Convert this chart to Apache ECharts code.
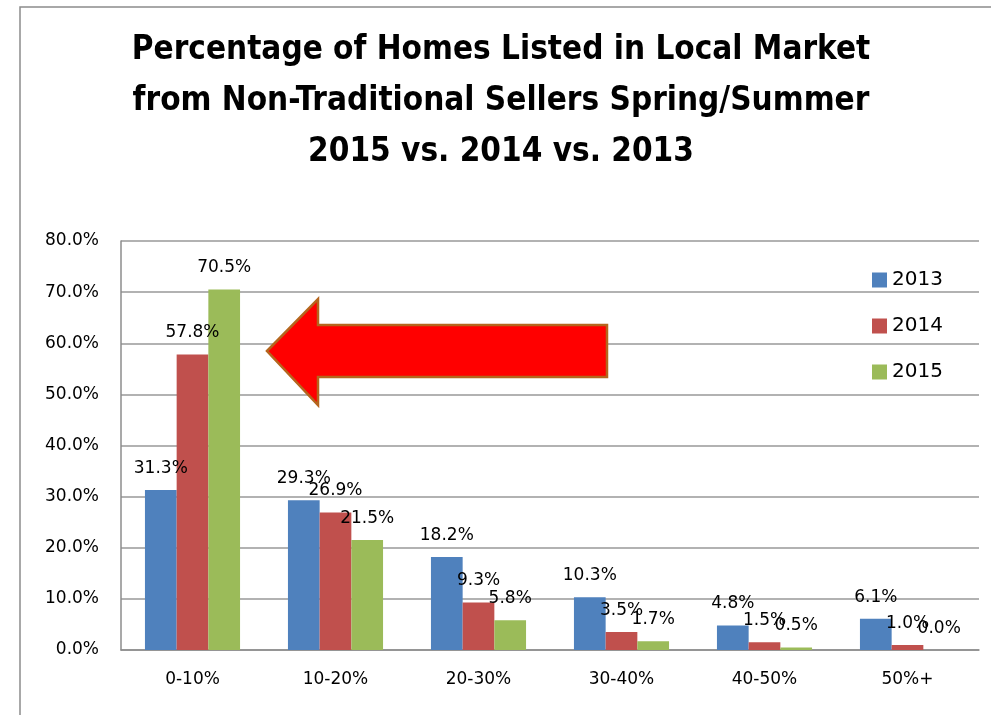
<!DOCTYPE html>
<html>
    <head>
        <meta charset="utf-8">
        <script src="https://cdn.jsdelivr.net/npm/echarts@6/dist/echarts.min.js"></script>
        <style>
            html, body {
                margin: 0;
                padding: 0;
                background: #fff;
            }
            #main {
                width: 991px;
                height: 715px;
            }
        </style>
    </head>
    <body>
        <div id="main"></div>

        <script>
            // ranges of non-traditional share
            var categories = ['0-10%', '10-20%', '20-30%', '30-40%', '40-50%', '50%+'];
            var years = ['2013', '2014', '2015'];
            var data2013 = [31.3, 29.3, 18.2, 10.3, 4.8, 6.1];
            var data2014 = [57.8, 26.9, 9.3, 3.5, 1.5, 1.0];
            var data2015 = [70.5, 21.5, 5.8, 1.7, 0.5, 0.0];
            var yTicks = [0, 10, 20, 30, 40, 50, 60, 70, 80];

            var colors = ['#4F81BD', '#C0504D', '#9BBB59'];
            var labelFont = 'DejaVu Sans';

            var chart = echarts.init(document.getElementById('main'));

            function makeSeries(name, data) {
                return {
                    name: name,
                    type: 'bar',
                    data: data,
                    barGap: '0%',
                    barCategoryGap: '33.5%',
                    label: {
                        show: true,
                        position: 'top',
                        distance: 13,
                        color: '#000',
                        fontFamily: labelFont,
                        fontSize: 17,
                        formatter: function (p) {
                            return p.value.toFixed(1) + '%';
                        }
                    }
                };
            }

            chart.setOption({
                animation: false,
                color: colors,
                title: {
                    text: 'Percentage of Homes Listed in Local Market\nfrom Non-Traditional Sellers Spring/Summer\n2015 vs. 2014 vs. 2013',
                    left: 501,
                    top: 25,
                    padding: 0,
                    textAlign: 'center',
                    textStyle: {
                        fontFamily: '"Liberation Sans Narrow", "DejaVu Sans Condensed", sans-serif',
                        fontWeight: 'bold',
                        fontSize: 33,
                        lineHeight: 51,
                        color: '#000'
                    }
                },
                legend: {
                    data: years,
                    orient: 'vertical',
                    left: 872,
                    top: 270,
                    padding: 0,
                    itemWidth: 15,
                    itemHeight: 15,
                    itemGap: 26,
                    icon: 'rect',
                    textStyle: {
                        fontFamily: labelFont,
                        fontSize: 20,
                        color: '#000'
                    }
                },
                grid: {
                    left: 121,
                    right: 12,
                    top: 241,
                    bottom: 65
                },
                xAxis: {
                    type: 'category',
                    data: categories,
                    axisTick: {show: false},
                    axisLine: {lineStyle: {color: '#8c8c8c', width: 1.5}},
                    axisLabel: {
                        margin: 21,
                        color: '#000',
                        fontFamily: labelFont,
                        fontSize: 17
                    }
                },
                yAxis: {
                    type: 'value',
                    min: yTicks[0],
                    max: yTicks[yTicks.length - 1],
                    interval: 10,
                    axisLine: {show: true, lineStyle: {color: '#8c8c8c', width: 1.5}},
                    axisTick: {show: false},
                    splitLine: {lineStyle: {color: '#999', width: 1.5}},
                    axisLabel: {
                        margin: 22,
                        color: '#000',
                        fontFamily: labelFont,
                        fontSize: 17,
                        formatter: function (v) {
                            return v.toFixed(1) + '%';
                        }
                    }
                },
                graphic: [
                    {
                        // outer frame of the original slide chart
                        type: 'rect',
                        shape: {x: 20, y: 7, width: 1000, height: 800},
                        style: {fill: 'none', stroke: '#8c8c8c', lineWidth: 1.5},
                        silent: true
                    },
                    {
                        // big red arrow pointing at the 0-10% group
                        type: 'polygon',
                        z: 100,
                        shape: {
                            points: [
                                [267, 351], [318, 299], [318, 325], [607, 325],
                                [607, 377], [318, 377], [318, 405]
                            ]
                        },
                        style: {fill: '#FF0000', stroke: '#B5651D', lineWidth: 2.5}
                    }
                ],
                series: [
                    makeSeries('2013', data2013),
                    makeSeries('2014', data2014),
                    makeSeries('2015', data2015)
                ]
            });

            window.onresize = chart.resize;
        </script>
    </body>
</html>
